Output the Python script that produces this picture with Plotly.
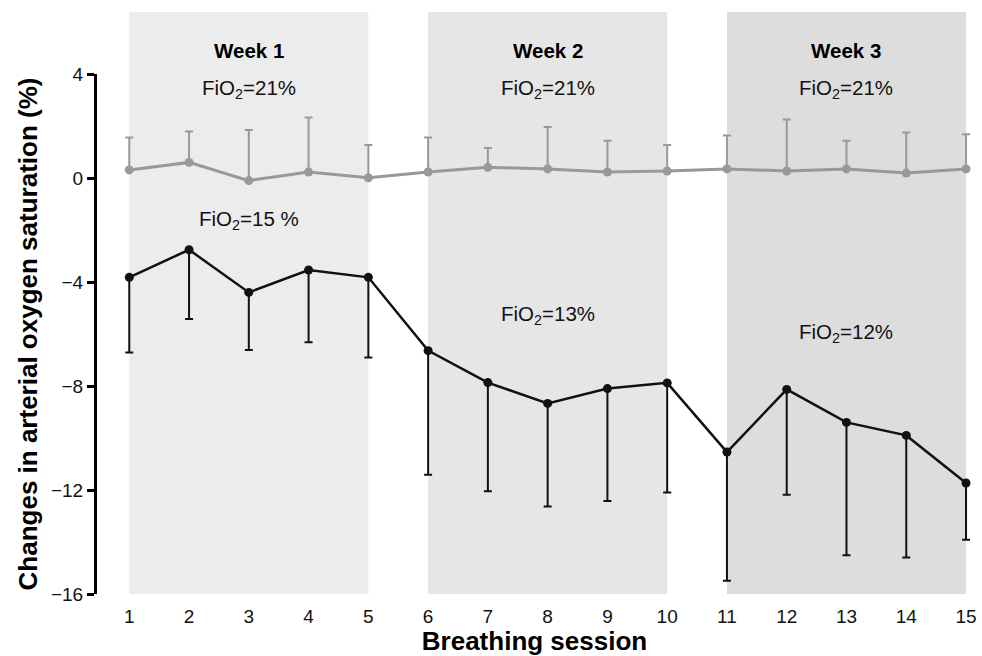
import plotly.graph_objects as go

sessions = list(range(1, 16))
normoxia_mean = [0.31, 0.60, -0.10, 0.23, 0.01, 0.23, 0.41, 0.35, 0.23, 0.27, 0.35, 0.27, 0.35, 0.19, 0.35]
normoxia_top = [1.56, 1.79, 1.85, 2.33, 1.27, 1.56, 1.15, 1.96, 1.43, 1.27, 1.63, 2.25, 1.43, 1.75, 1.68]
hypoxia_mean = [-3.82, -2.76, -4.40, -3.54, -3.82, -6.64, -7.87, -8.67, -8.10, -7.88, -10.54, -8.13, -9.40, -9.90, -11.73]
hypoxia_bottom = [-6.71, -5.42, -6.62, -6.32, -6.90, -11.41, -12.05, -12.63, -12.42, -12.10, -15.49, -12.18, -14.51, -14.60, -13.91]

weeks = ["Week 1", "Week 2", "Week 3"]
week_sessions = [[1, 2, 3, 4, 5], [6, 7, 8, 9, 10], [11, 12, 13, 14, 15]]
week_colors = ["#ececec", "#e6e6e6", "#dddddd"]
normoxia_labels = ["FiO<sub>2</sub>=21%", "FiO<sub>2</sub>=21%", "FiO<sub>2</sub>=21%"]
hypoxia_labels = ["FiO<sub>2</sub>=15 %", "FiO<sub>2</sub>=13%", "FiO<sub>2</sub>=12%"]
hypoxia_label_y = [-1.63, -5.26, -5.98]

n_up = [t - m for t, m in zip(normoxia_top, normoxia_mean)]
h_dn = [m - b for m, b in zip(hypoxia_mean, hypoxia_bottom)]

fig = go.Figure()

fig.add_trace(go.Scatter(
    x=sessions, y=normoxia_mean, mode="lines+markers", cliponaxis=False,
    line=dict(color="#999999", width=3),
    marker=dict(color="#999999", size=9),
    error_y=dict(type="data", symmetric=False, array=n_up, arrayminus=[0] * 15,
                 color="#999999", thickness=2, width=4),
    showlegend=False,
))
fig.add_trace(go.Scatter(
    x=sessions, y=hypoxia_mean, mode="lines+markers", cliponaxis=False,
    line=dict(color="#111111", width=2.5),
    marker=dict(color="#111111", size=9),
    error_y=dict(type="data", symmetric=False, array=[0] * 15, arrayminus=h_dn,
                 color="#111111", thickness=2, width=4),
    showlegend=False,
))

shapes = []
annotations = []
for i, ws in enumerate(week_sessions):
    shapes.append(dict(type="rect", xref="x", yref="paper", x0=ws[0], x1=ws[-1],
                       y0=0, y1=1.119, fillcolor=week_colors[i], line=dict(width=0),
                       layer="below"))
    mid = (ws[0] + ws[-1]) / 2
    annotations.append(dict(x=mid, xref="x", y=1.046, yref="paper", yanchor="middle",
                            text="<b>%s</b>" % weeks[i],
                            showarrow=False, font=dict(size=20.5, color="#000000")))
    annotations.append(dict(x=mid, xref="x", y=0.971, yref="paper", yanchor="middle",
                            text=normoxia_labels[i],
                            showarrow=False, font=dict(size=20.5, color="#111111")))
    annotations.append(dict(x=mid, xref="x", y=hypoxia_label_y[i], yref="y", yanchor="middle",
                            text=hypoxia_labels[i],
                            showarrow=False, font=dict(size=20.5, color="#111111")))

fig.update_layout(
    width=982, height=656,
    margin=dict(l=97, r=5, t=74, b=62),
    paper_bgcolor="white", plot_bgcolor="rgba(0,0,0,0)",
    font=dict(family="Liberation Sans, Arial, sans-serif", color="#111111"),
    shapes=shapes, annotations=annotations,
    xaxis=dict(range=[0.46, 15.1], tickmode="array", tickvals=sessions,
               ticktext=[str(s) for s in sessions], showgrid=False, zeroline=False,
               showline=False, ticks="outside", ticklen=5, tickcolor="rgba(0,0,0,0)",
               tickfont=dict(size=19, color="#111111"),
               title=dict(text="<b>Breathing session</b>", font=dict(size=26, color="#000000"), standoff=3)),
    yaxis=dict(range=[-16, 4], tickmode="array", tickvals=[4, 0, -4, -8, -12, -16],
               showgrid=False, zeroline=False, showline=True, linecolor="#000000", linewidth=3,
               ticks="outside", ticklen=7, tickwidth=3, tickcolor="#000000",
               tickfont=dict(size=19, color="#111111"),
               title=dict(text="<b>Changes in arterial oxygen saturation (%)</b>",
                          font=dict(size=26, color="#000000"), standoff=6)),
)

fig.write_html("out.html", config={"displayModeBar": False},
               post_script="document.body.style.margin='0';document.body.style.overflow='hidden';")
